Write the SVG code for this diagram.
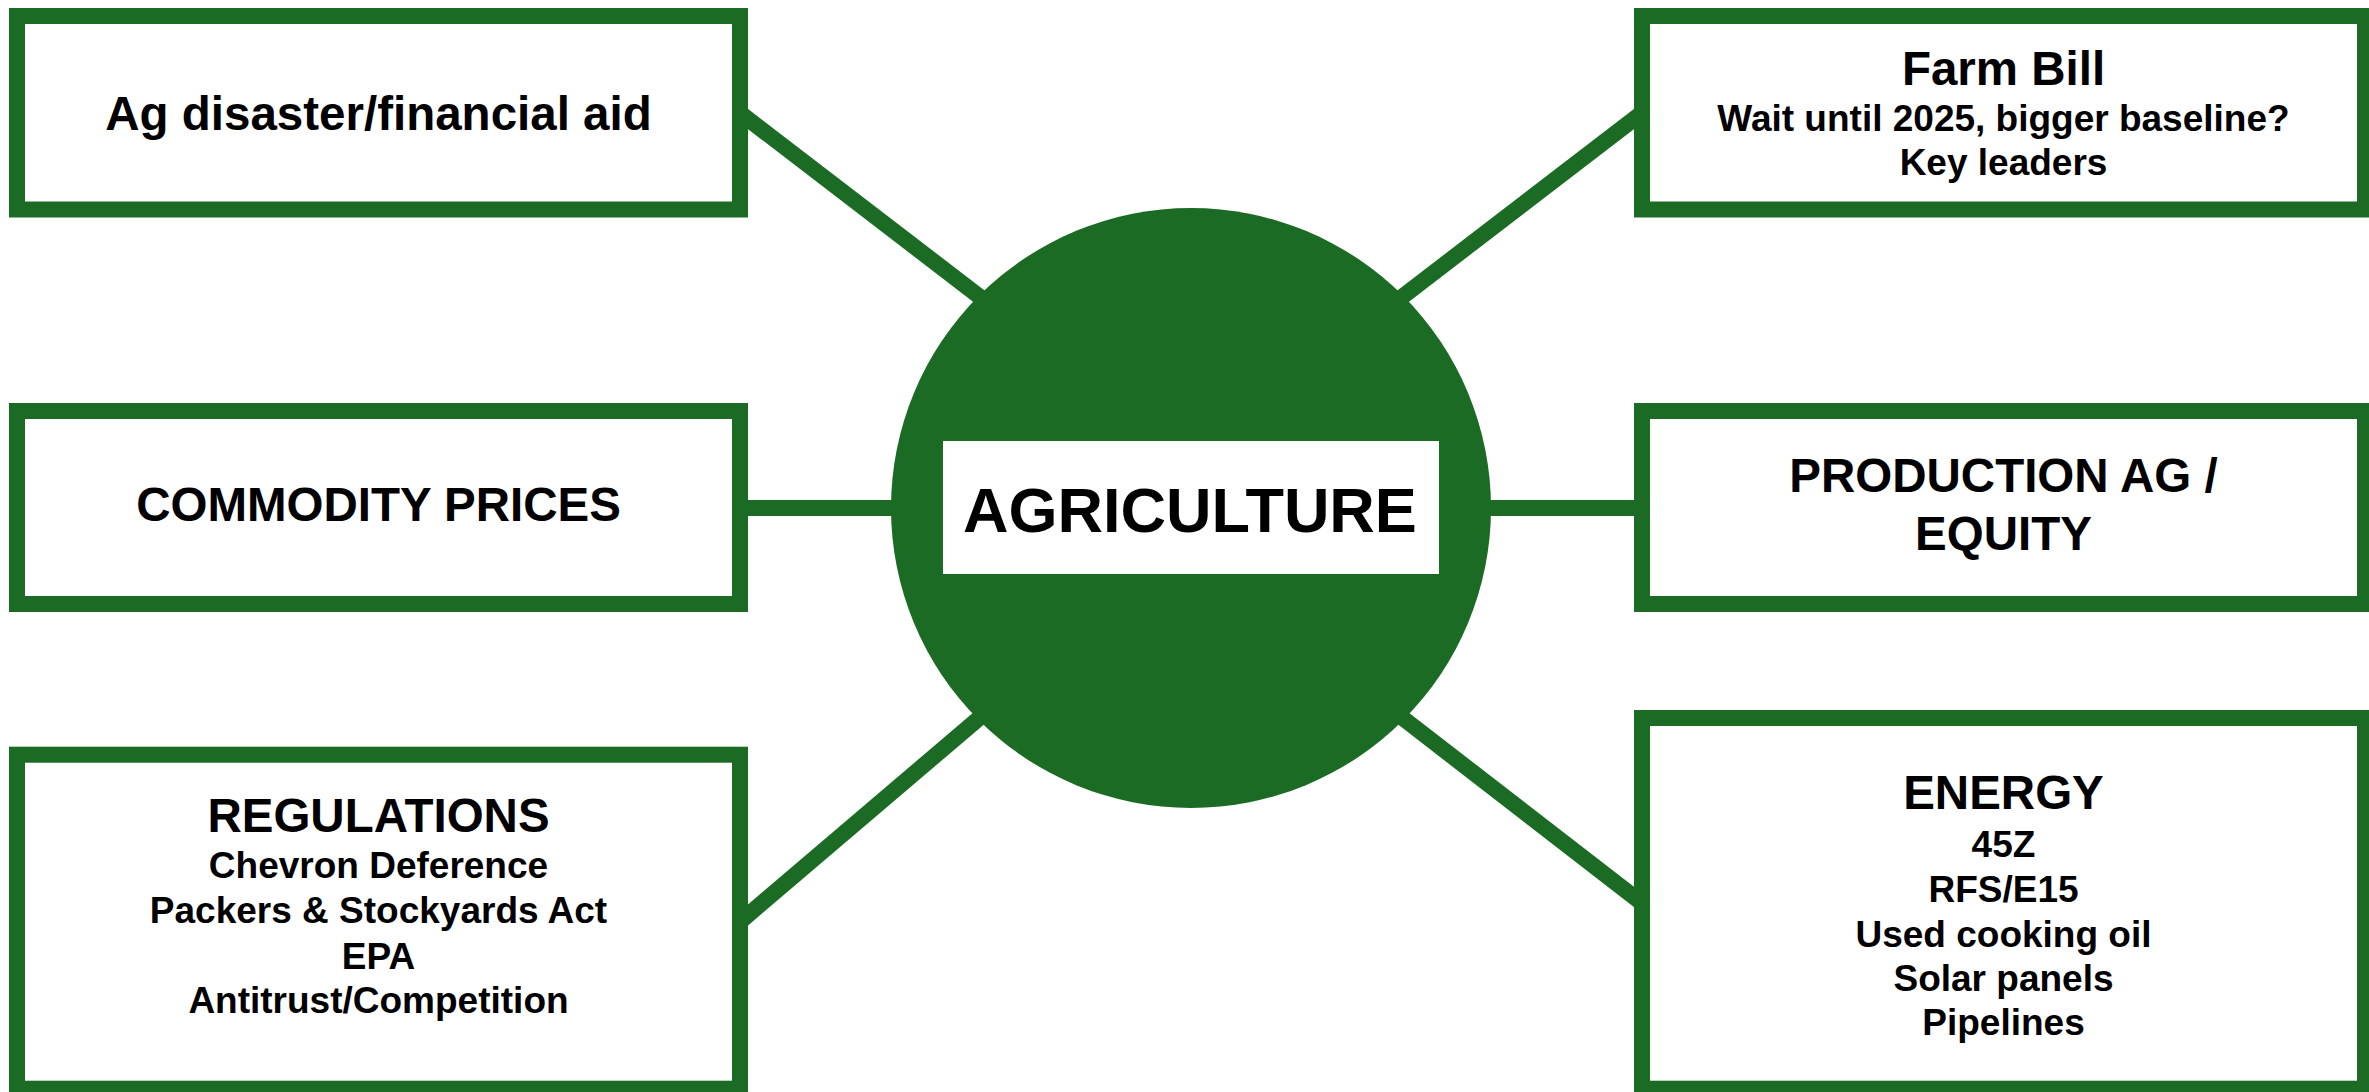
<svg xmlns="http://www.w3.org/2000/svg" width="2369" height="1092" viewBox="0 0 2369 1092">
<style>
.box{fill:#ffffff;stroke:#1b6b25;stroke-width:16}
.con{stroke:#1b6b25;stroke-width:16;fill:none}
text{font-family:"Liberation Sans",Arial,sans-serif;font-weight:bold;fill:#000000;text-anchor:middle}
.t{font-size:47.5px}
.s{font-size:37px}
.c{font-size:63px}
</style>
<rect width="2369" height="1092" fill="#ffffff"/>
<g id="connectors">
<line class="con" x1="740" y1="112.9" x2="1000" y2="312.3"/>
<line class="con" x1="1642" y1="112.9" x2="1382" y2="312.3"/>
<line class="con" x1="740" y1="508" x2="1000" y2="508" stroke-width="15"/>
<line class="con" x1="1642" y1="508" x2="1382" y2="508" stroke-width="15"/>
<line class="con" x1="740" y1="921.8" x2="1000" y2="700.3"/>
<line class="con" x1="1642" y1="903.2" x2="1382" y2="702"/>
</g>
<g id="node-ag-disaster">
<rect class="box" x="17" y="16" width="723" height="193.5"/>
<text class="t" x="378.5" y="130">Ag disaster/financial aid</text>
</g>
<g id="node-commodity">
<rect class="box" x="17" y="411" width="723" height="193"/>
<text class="t" x="378.5" y="521">COMMODITY PRICES</text>
</g>
<g id="node-regulations">
<rect class="box" x="17" y="754.7" width="723" height="334"/>
<text class="t" x="378.5" y="832">REGULATIONS</text>
<text class="s" x="378.5" y="878">Chevron Deference</text>
<text class="s" x="378.5" y="923">Packers &amp; Stockyards Act</text>
<text class="s" x="378.5" y="969">EPA</text>
<text class="s" x="378.5" y="1013">Antitrust/Competition</text>
</g>
<g id="node-farm-bill">
<rect class="box" x="1642" y="16" width="723" height="193.5"/>
<text class="t" x="2003.5" y="85">Farm Bill</text>
<text class="s" x="2003.5" y="130.5">Wait until 2025, bigger baseline?</text>
<text class="s" x="2003.5" y="175">Key leaders</text>
</g>
<g id="node-production">
<rect class="box" x="1642" y="411" width="723" height="193"/>
<text class="t" x="2003.5" y="492">PRODUCTION AG /</text>
<text class="t" x="2003.5" y="550">EQUITY</text>
</g>
<g id="node-energy">
<rect class="box" x="1642" y="718" width="723" height="370.7"/>
<text class="t" x="2003.5" y="809">ENERGY</text>
<text class="s" x="2003.5" y="857">45Z</text>
<text class="s" x="2003.5" y="902">RFS/E15</text>
<text class="s" x="2003.5" y="947">Used cooking oil</text>
<text class="s" x="2003.5" y="991">Solar panels</text>
<text class="s" x="2003.5" y="1035">Pipelines</text>
</g>
<g id="node-agriculture">
<circle cx="1191" cy="508" r="300" fill="#1b6b25"/>
<rect x="943" y="441" width="496" height="133" fill="#ffffff"/>
<text class="c" x="1190" y="532">AGRICULTURE</text>
</g>
</svg>
